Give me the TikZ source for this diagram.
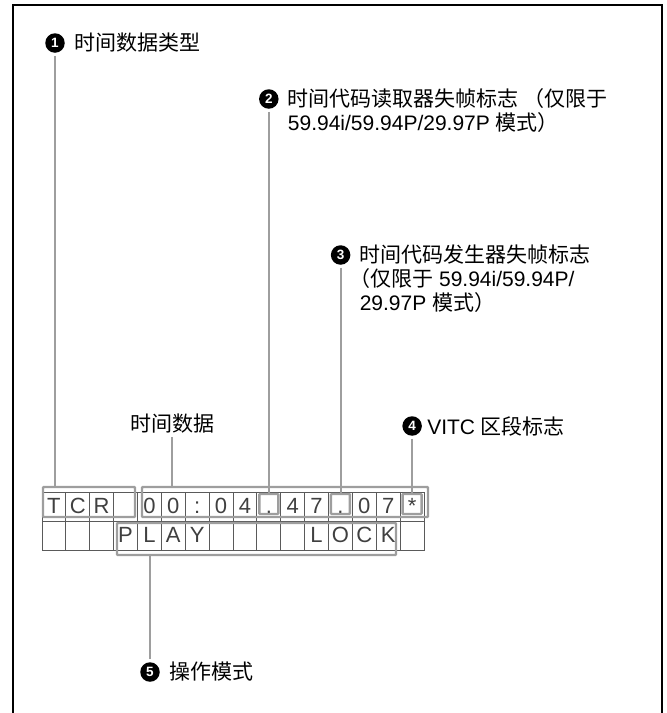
\documentclass[tikz,border=0pt]{standalone}
\usepackage{fontspec}
\setmainfont{Liberation Sans}
\newfontfamily\cjk{Noto Sans CJK SC}
\usepackage{tikz}
\usetikzlibrary{positioning,calc}
\definecolor{leadgray}{RGB}{158,158,158}
\definecolor{gridgray}{RGB}{90,90,90}

\begin{document}
\begin{tikzpicture}[
    x=1pt, y=-1pt,
    font=\fontsize{21}{24}\selectfont,
    marker/.style={
        circle,
        fill=black,
        inner sep=0pt,
        minimum size=19.5pt,
        text=white,
        font=\fontsize{13.5}{13.5}\selectfont\bfseries
    },
    callout/.style={
        inner sep=0pt,
        anchor=west,
        align=left
    },
    cell/.style={
        draw=gridgray,
        line width=0.8pt,
        minimum width=23.875pt,
        minimum height=29pt,
        inner sep=0pt,
        text=black!75,
        text height=16pt,
        text depth=4pt,
        font=\fontsize{22}{22}\selectfont
    },
    bracket/.style={
        draw=leadgray,
        line width=2.4pt,
        rounded corners=0.8pt,
        inner sep=0pt
    },
    lead/.style={leadgray, line width=2pt, shorten <=3pt},
    frame/.style={line width=2.6pt}
]
\useasboundingbox (0,0) rectangle (667,713);

% frame, open at the bottom
\draw[frame] (13,713) -- (13,5) -- (662,5) -- (662,713);

% display rows
\foreach \ch [count=\i] in {T,C,R,{},0,0,:,0,4,.,4,7,.,0,7,*}
    \node[cell] (a\i) at (30.06+23.875*\i,507) {\ch};
\foreach \ch [count=\i] in {{},{},{},P,L,A,Y,{},{},{},{},L,O,C,K,{}}
    \node[cell] (b\i) at (30.06+23.875*\i,536) {\ch};

% brackets
\node[bracket, minimum width=92pt, minimum height=30pt] (tcr) at (89,502) {};
\node[bracket, minimum width=286pt, minimum height=30pt] (tdata) at (285,502) {};
\node[bracket, minimum width=279pt, minimum height=32pt] (mode) at (256.5,539) {};
\node[bracket, minimum width=19pt, minimum height=20pt] (dotr) at ($(a10)+(0,-3)$) {};
\node[bracket, minimum width=19pt, minimum height=20pt] (dotg) at ($(a13)+(0,-3)$) {};
\node[bracket, minimum width=19pt, minimum height=20pt] (star) at ($(a16)+(0,-3)$) {};

% callouts
\node[marker] (m1) at (55,43) {1};
\node[callout, right=9pt of m1] (l1) {{\cjk 时间数据类型}};

\node[marker] (m2) at (268.8,99) {2};
\node[callout, anchor=north west] (l2) at ($(m2.east)+(9,-10.5)$)
{{\cjk 时间代码读取器失帧标志 （仅限于}\\59.94i/59.94P/29.97P {\cjk 模式）}};

\node[marker] (m3) at (340.6,255) {3};
\node[callout, anchor=north west] (l3) at ($(m3.east)+(9,-10.5)$)
{{\cjk 时间代码发生器失帧标志}\\\hspace*{-0.5em}{\cjk （仅限于} 59.94i/59.94P/\\29.97P {\cjk 模式）}};

\node[callout, anchor=center] (l0) at (172,424) {{\cjk 时间数据}};

\node[marker] (m4) at (412.1,426) {4};
\node[callout, right=5pt of m4] (l4) {VITC {\cjk 区段标志}};

\node[marker] (m5) at (150,672) {5};
\node[callout, right=9pt of m5] (l5) {{\cjk 操作模式}};

% leaders
\draw[lead] (m1.south) -- (m1.south |- tcr.north);
\draw[lead] (l0.south) -- (l0.south |- tdata.north);
\draw[lead] (m2.south) -- (m2.south |- dotr.north);
\draw[lead] (m3.south) -- (m3.south |- dotg.north);
\draw[lead] (m4.south) -- (m4.south |- star.north);
\draw[lead] (m5.north) -- (m5.north |- mode.south);

\end{tikzpicture}
\end{document}
